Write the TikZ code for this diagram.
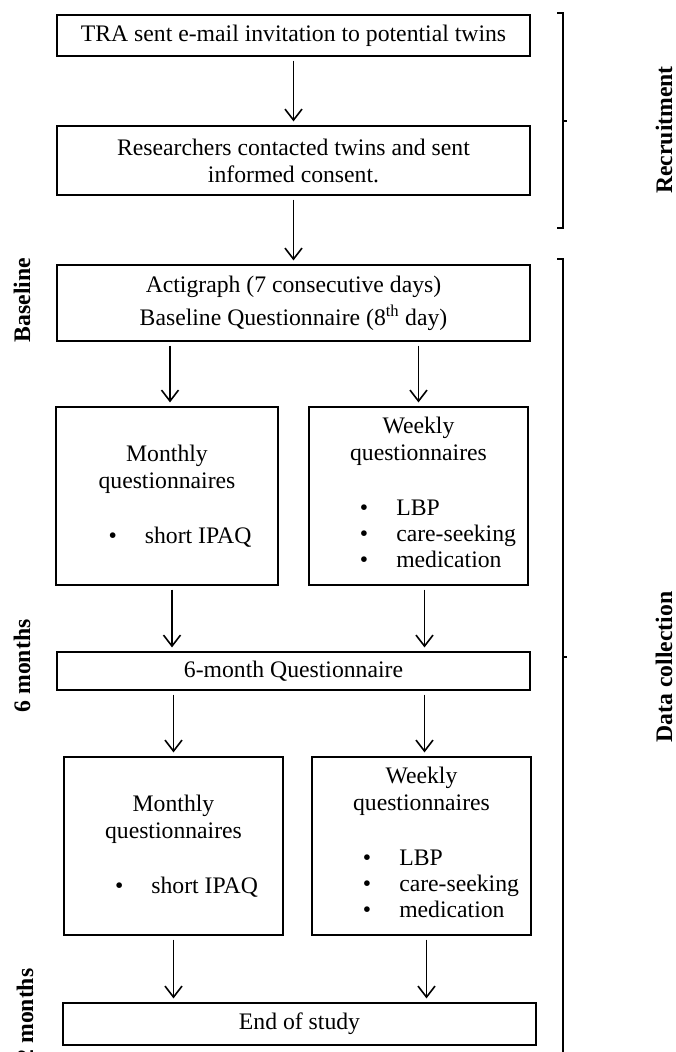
\documentclass[tikz,border=0pt]{standalone}
\usepackage{fontspec}
\setmainfont{Liberation Serif}
\usetikzlibrary{arrows.meta}

\newcommand{\weeklist}{{\renewcommand\arraystretch{0.95}%
  \begin{tabular}[t]{@{}l@{\hspace{28pt}}l@{}}
    \textbullet & LBP\\
    \textbullet & care-seeking\\
    \textbullet & medication
  \end{tabular}}}

\begin{document}
\begin{tikzpicture}[x=1pt, y=-1pt,
    box/.style = {draw, line width=1.2pt, align=center, inner sep=0pt,
                  font=\fontsize{23.7}{27}\selectfont},
    flow/.style = {-{Straight Barb[length=11pt,width=17pt]}, line width=1.6pt,
                   shorten <=4pt, shorten >=4pt},
    brak/.style = {line width=1.3pt},
    phase/.style = {rotate=90, font=\fontsize{23.7}{27}\selectfont\bfseries}]
  \useasboundingbox (0,0) rectangle (676,1052);

  % recruitment
  \node[box, minimum width=473pt, minimum height=41pt] (tra) at (293.5,35.5)
    {TRA sent e-mail invitation to potential twins};
  \node[box, minimum width=473pt, minimum height=69pt] (contact) at (293.5,160.5)
    {Researchers contacted twins and sent\\informed consent.};

  % baseline
  \node[box, minimum width=473pt, minimum height=76pt] (base) at (293.5,303)
    {Actigraph (7 consecutive days)\\[6pt]Baseline Questionnaire (8\textsuperscript{th} day)};

  % first six months
  \node[box, minimum width=222pt, minimum height=178pt] (monthA) at (167,496)
    {Monthly\\questionnaires\\[28pt]\hspace*{26pt}\textbullet\hspace{28pt}short IPAQ};
  \node[box, minimum width=219pt, minimum height=178pt] (weekA) at (418.5,496)
    {Weekly\\questionnaires\\[28pt]\hspace*{39pt}\weeklist};
  \node[box, minimum width=473pt, minimum height=38pt] (sixm) at (293.5,671)
    {6-month Questionnaire};

  % second six months
  \node[box, minimum width=219pt, minimum height=178pt] (monthB) at (173.5,846)
    {Monthly\\questionnaires\\[28pt]\hspace*{26pt}\textbullet\hspace{28pt}short IPAQ};
  \node[box, minimum width=219pt, minimum height=178pt] (weekB) at (421.5,846)
    {Weekly\\questionnaires\\[28pt]\hspace*{39pt}\weeklist};
  \node[box, minimum width=473pt, minimum height=42pt] (endst) at (299.5,1024)
    {End of study};

  \draw[flow] (tra) -- (contact);
  \draw[flow] (contact) -- (base);
  \draw[flow] ([xshift=3pt]base.south -| monthA) -- ([xshift=3pt]monthA.north);
  \draw[flow] (base.south -| weekA) -- (weekA);
  \draw[flow] ([xshift=5pt]monthA.south) -- ([xshift=5pt]monthA.south |- sixm.north);
  \draw[flow] ([xshift=6pt]weekA.south) -- ([xshift=6pt]weekA.south |- sixm.north);
  \draw[flow] (sixm.south -| monthB) -- (monthB);
  \draw[flow] ([xshift=3pt]sixm.south -| weekB) -- ([xshift=3pt]weekB.north);
  \draw[flow] (monthB.south) -- (monthB.south |- endst.north);
  \draw[flow] ([xshift=5pt]weekB.south) -- ([xshift=5pt]weekB.south |- endst.north);

  % brackets on the right
  \coordinate (rtop) at (563,13);
  \coordinate (rmid) at (563,121);
  \coordinate (rbot) at (563,228);
  \draw[brak] ([xshift=-6pt]rtop) -- (rtop) -- (rbot) -- ([xshift=-6pt]rbot);
  \draw[brak] (rmid) -- ++(4,0);
  \coordinate (dtop) at (563,259);
  \coordinate (dmid) at (563,657);
  \coordinate (dbot) at (563,1060);
  \draw[brak] ([xshift=-6pt]dtop) -- (dtop) -- (dbot);
  \draw[brak] (dmid) -- ++(4,0);

  \node[phase] (recr) at (664,130) {Recruitment};
  \node[phase] (datac) at (664,667) {Data collection};

  % time points on the left
  \node[phase] (t0) at (22,300) {Baseline};
  \node[phase] (t6) at (22,666) {6 months};
  \node[phase] (t12) at (25,1021) {12 months};
\end{tikzpicture}
\end{document}
